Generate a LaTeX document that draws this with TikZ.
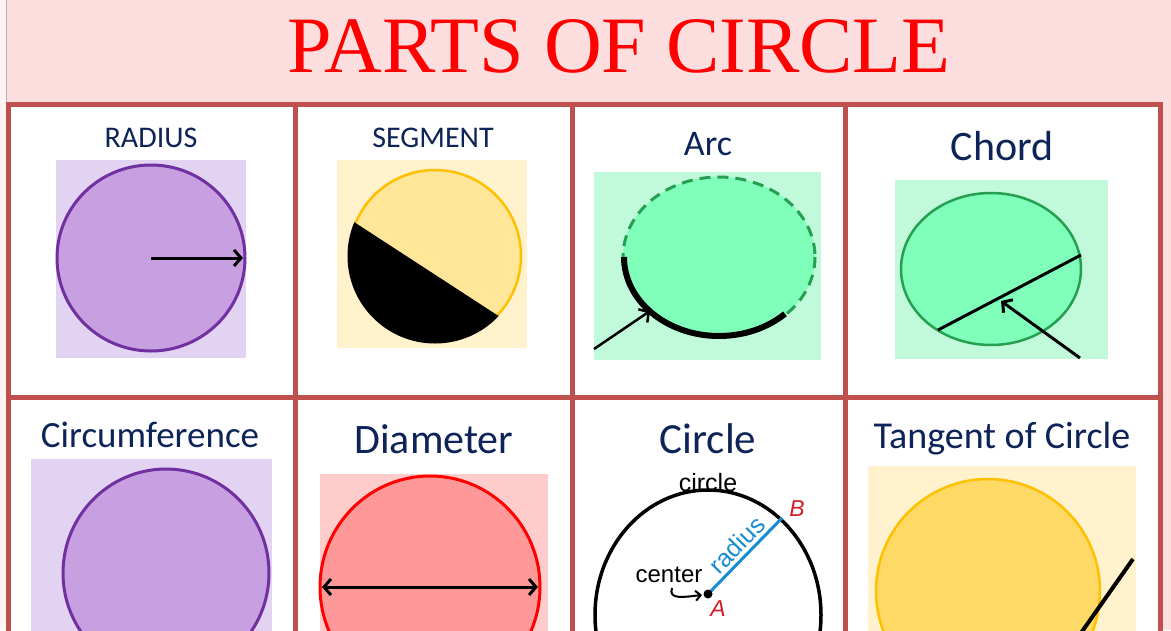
\documentclass[tikz,border=0pt]{standalone}
\usepackage{fontspec}
\setmainfont{Carlito}
\newfontfamily\titlefont{Liberation Serif}
\newfontfamily\arialfont{Liberation Sans}
\usetikzlibrary{arrows.meta,calc}
\definecolor{headpink}{RGB}{253,222,222}
\definecolor{gridred}{RGB}{192,80,77}
\definecolor{labelnavy}{RGB}{14,36,88}
\definecolor{lavbg}{RGB}{226,211,242}
\definecolor{lavfill}{RGB}{200,160,225}
\definecolor{lavline}{RGB}{112,48,160}
\definecolor{creambg}{RGB}{255,242,204}
\definecolor{creamfill}{RGB}{255,230,153}
\definecolor{goldfill}{RGB}{255,217,102}
\definecolor{goldline}{RGB}{255,192,0}
\definecolor{mintbg}{RGB}{192,250,218}
\definecolor{mintfill}{RGB}{128,255,187}
\definecolor{mintline}{RGB}{38,160,80}
\definecolor{rosebg}{RGB}{255,204,204}
\definecolor{rosefill}{RGB}{255,153,153}
\definecolor{radiusblue}{RGB}{24,140,210}
\definecolor{pointred}{RGB}{210,30,40}
\tikzset{
  part label/.style={anchor=base, text=labelnavy, font=\fontsize{#1}{#1}\selectfont},
  grid line/.style={gridred, line width=5pt, line cap=rect},
  ring/.style={line width=3pt},
  pointer/.style={black, line width=3pt, -{Straight Barb[length=7pt,width=16pt]}},
  small text/.style={anchor=base, inner sep=1pt, font=\arialfont\fontsize{#1}{#1}\selectfont},
}
\newcommand{\PartsGrid}[2]{% #1=column x list, #2=row y list
  \foreach \gx in {#1}{
    \draw[grid line] (\gx,104) -- (\gx,640);
  }
  \foreach \gy in {#2}{
    \draw[grid line] (8,\gy) -- (1160,\gy);
  }
}

\begin{document}
\begin{tikzpicture}[x=1pt, y=-1pt]
    \useasboundingbox (0,0) rectangle (1171,630);
    \clip (0,0) rectangle (1171,630);
    % ---- header and margins
    \fill[white] (0,0) rectangle (1171,630);
    \fill[headpink] (0,0) rectangle (1171,104);
    \fill[headpink] (1160,104) rectangle (1171,630);
    \fill[headpink!35] (0,0) rectangle (6,630);
    \draw[gray!60, line width=0.8pt] (6.5,0) -- (6.5,104);
    \node[anchor=base, text=red, font=\titlefont\fontsize{80}{80}\selectfont] (title) at (619,72) {PARTS OF CIRCLE};

    \coordinate (C1) at (151,258);
    \coordinate (C2) at (435,256);
    \coordinate (C3) at (719,257);
    \coordinate (C4) at (991,269);
    \coordinate (C5) at (166,573);
    \coordinate (C6) at (430,587);
    \coordinate (C7) at (708,615);
    \coordinate (C8) at (988,591);

    % ---- radius
    \node[part label=30] (lblRadius) at (151,147) {RADIUS};
    \fill[lavbg] (56,160) rectangle (246,358);
    \draw[lavline, ring, fill=lavfill] (C1) ellipse [x radius=94, y radius=93];
    \coordinate (R1) at (243,258);
    \draw[pointer] (C1) -- (R1);

    % ---- segment
    \node[part label=30] (lblSegment) at (433,147) {SEGMENT};
    \fill[creambg] (337,160) rectangle (527,348);
    \draw[goldline, line width=2.5pt, fill=creamfill] (C2) circle [radius=86];
    \coordinate (S1) at (354,222);
    \coordinate (S2) at (497,315);
    \begin{scope}
      \clip (C2) circle [radius=87.5];
      \fill[black] ($(S1)!-0.3!(S2)$) -- ($(S2)!-0.3!(S1)$) -- (560,380) -- (320,380) -- cycle;
    \end{scope}

    % ---- arc
    \node[part label=36] (lblArc) at (708,155) {Arc};
    \fill[mintbg] (594,172) rectangle (821,360);
    \fill[mintfill] (C3) ellipse [x radius=96, y radius=80];
    \draw[mintline, line width=3pt, dash pattern=on 11pt off 7pt] (C3) ellipse [x radius=96, y radius=80];
    \draw[black, line width=6pt] ($(C3)+(-95,0)$) arc [start angle=180, end angle=46, x radius=95, y radius=79];
    \coordinate (A3tail) at (594,349);
    \coordinate (A3tip) at (650,311);
    \draw[pointer, line width=2.5pt] (A3tail) -- (A3tip);

    % ---- chord
    \node[part label=42] (lblChord) at (1002,160) {Chord};
    \fill[mintbg] (895,180) rectangle (1108,359);
    \draw[mintline, line width=2.5pt, fill=mintfill] (C4) ellipse [x radius=90, y radius=76];
    \coordinate (K1) at (938,330);
    \coordinate (K2) at (1081,255);
    \draw[black, line width=3pt] (K1) -- (K2);
    \coordinate (K3) at (1080,358);
    \coordinate (K4) at (1001,301);
    \draw[pointer] (K3) -- (K4);

    % ---- circumference
    \node[part label=37] (lblCircum) at (150,447) {Circumference};
    \fill[lavbg] (31,459) rectangle (272,640);
    \draw[lavline, ring, fill=lavfill] (C5) ellipse [x radius=103, y radius=104];

    % ---- diameter
    \node[part label=42] (lblDiameter) at (434,453) {Diameter};
    \fill[rosebg] (320,474) rectangle (548,640);
    \draw[red, ring, fill=rosefill] (C6) ellipse [x radius=110, y radius=111];
    \coordinate (D1) at (322,587);
    \coordinate (D2) at (538,587);
    \draw[black, line width=3pt, {Straight Barb[length=7pt,width=16pt]}-{Straight Barb[length=7pt,width=16pt]}] (D1) -- (D2);

    % ---- circle
    \node[part label=43] (lblCircle) at (708,453) {Circle};
    \draw[black, line width=3.5pt] (C7) ellipse [x radius=113, y radius=125];
    \node[small text=25] (circleword) at (708,491) {circle};
    \coordinate (A) at (708,594);
    \coordinate (B) at (782,518);
    \draw[radiusblue, line width=3pt] (A) -- node[sloped, above=3pt, pos=0.52, inner sep=0pt, text=radiusblue, font=\arialfont\fontsize{25}{25}\selectfont] (radiusword) {radius} (B);
    \fill[black] (A) circle [radius=4.5];
    \node[small text=23, text=pointred] (labB) at (797,516) {\itshape B};
    \node[small text=23, text=pointred] (labA) at (718,616) {\itshape A};
    \node[small text=24] (centerword) at (669,582) {center};
    \coordinate (centerfoot) at (672,588);
    \coordinate (centertip) at (702,595);
    \draw[black, line width=2pt, -{Straight Barb[length=5pt,width=10pt]}] (centerfoot) .. controls (668,600) and (684,597) .. (centertip);

    % ---- tangent
    \node[part label=38] (lblTangent) at (1002,448) {Tangent of Circle};
    \fill[creambg] (868,466) rectangle (1136,640);
    \draw[goldline, line width=2.5pt, fill=goldfill] (C8) circle [radius=112];
    \coordinate (T1) at (1133,559);
    \coordinate (T2) at (1062,660);
    \draw[black, line width=4pt] (T1) -- (T2);

    % ---- grid on top
    \PartsGrid{8,295,572,845,1160}{104,397}
\end{tikzpicture}
\end{document}
